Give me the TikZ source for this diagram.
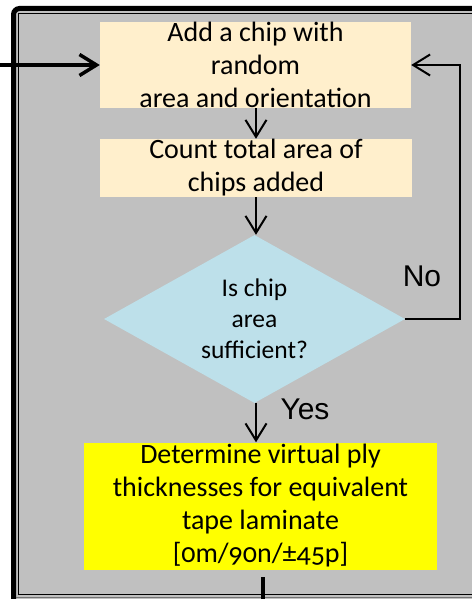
\documentclass[tikz,border=0pt]{standalone}
\usepackage{fontspec}
\setmainfont{Carlito}
\newfontfamily\arialfont{Liberation Sans}
\usetikzlibrary{shapes.geometric, arrows.meta}
\definecolor{panelgray}{HTML}{C0C0C0}
\definecolor{chipcream}{HTML}{FFEFCC}
\definecolor{checkblue}{HTML}{BDE0EA}
\definecolor{plyyellow}{HTML}{FFFF00}

\begin{document}
\begin{tikzpicture}[x=1pt, y=-1pt,
    chipbox/.style={rectangle, fill=chipcream, inner sep=0pt, align=center,
        font=\fontsize{28}{33}\selectfont},
    flowline/.style={-{Straight Barb[length=17pt, width=21pt]}, line width=2pt},
    answer/.style={font=\arialfont\fontsize{30}{36}\selectfont}]

    \useasboundingbox (0,0) rectangle (471,599);

    % Panel with its frame
    \fill[panelgray] (13.5,8.5) rectangle (490,620);
    \draw[line width=5pt, rounded corners=6pt] (13.5,620) -- (13.5,8.5) -- (490,8.5);
    \draw[line width=1.5pt] (18.5,13.5) rectangle (490,594.5);
    \draw[black!55, line width=1pt] (16,597.8) -- (490,597.8);

    % Steps
    \node[chipbox, minimum width=311pt, minimum height=79pt] (addchip) at (255.5,65)
        {Add a chip with\\random\\area and orientation};
    \node[chipbox, minimum width=312pt, minimum height=58pt] (countarea) at (256,168)
        {Count total area of\\chips added};
    \node[diamond, fill=checkblue, inner sep=0pt, aspect=1.79,
        minimum width=301pt, minimum height=168pt, align=center,
        font=\fontsize{25.5}{31}\selectfont] (check) at (254.5,319)
        {Is chip\\area\\sufficient?};
    \node[chipbox, fill=plyyellow, minimum width=353pt, minimum height=127pt] (plies) at (260.5,506)
        {Determine virtual ply\\thicknesses for equivalent\\tape laminate\\
        {\addfontfeatures{Numbers=OldStyle}[0m/90n/\char"00B1 45p]}};

    \node[answer] (no) at (422,276) {No};
    \node[answer] (yes) at (305,409) {Yes};

    % Connectors
    \coordinate (entry) at (-5,65);
    \draw[flowline, line width=3.5pt] (entry) -- (addchip.west);
    \draw[flowline] (addchip.south -| 256,0) -- (countarea.north -| 256,0);
    \draw[flowline] (countarea.south) -- (check.north -| countarea.south);
    \draw[flowline] (check.south -| 256,0) -- (plies.north -| 256,0);
    \draw[flowline] (check.east) -- ++(55,0) |- (addchip.east);

    \coordinate (exittop) at (263,577);
    \coordinate (exitbot) at (263,610);
    \draw[line width=4pt] (exittop) -- (exitbot);

\end{tikzpicture}
\end{document}
